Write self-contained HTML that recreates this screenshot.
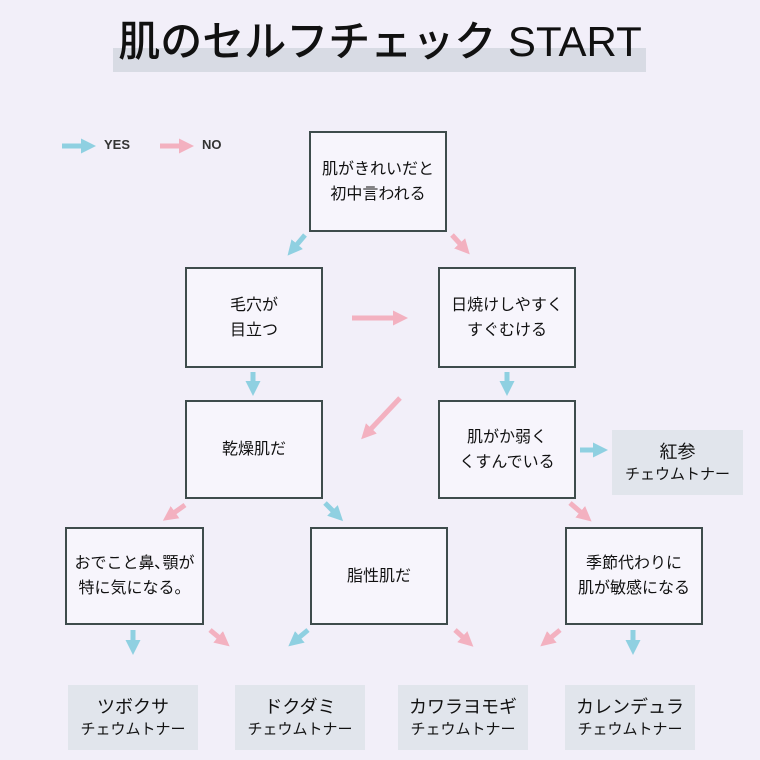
<!DOCTYPE html>
<html><head><meta charset="utf-8"><style>
body{margin:0;width:760px;height:760px;background:#f2eff9;position:relative;overflow:hidden;font-family:"Liberation Sans","Noto Sans CJK JP",sans-serif;color:#111}
.b{position:absolute;border:2px solid #3e4c4c;box-sizing:border-box;background:#f7f5fc;display:flex;align-items:center;justify-content:center;text-align:center;font-size:16px;line-height:25px}
.r{position:absolute;background:#e1e5ec;display:flex;flex-direction:column;align-items:center;justify-content:center;text-align:center}
.r .m{font-size:18px;line-height:24px}
.r .s{font-size:15px;line-height:22px}
.t{position:absolute;left:0;width:760px;top:14px;text-align:center;font-size:42px;line-height:56px;font-weight:500}
.bar{position:absolute;left:113px;top:48px;width:533px;height:24px;background:#d8dbe4}
.lg{position:absolute;font-size:13px;font-weight:bold;color:#333}
</style></head><body>
<div class="bar"></div>
<div class="t">肌のセルフチェック START</div>
<div class="lg" style="left:104px;top:137px">YES</div>
<div class="lg" style="left:202px;top:137px">NO</div>
<div class="b" style="left:309px;top:131px;width:138px;height:101px">肌がきれいだと<br>初中言われる</div>
<div class="b" style="left:185px;top:267px;width:138px;height:101px">毛穴が<br>目立つ</div>
<div class="b" style="left:438px;top:267px;width:138px;height:101px">日焼けしやすく<br>すぐむける</div>
<div class="b" style="left:185px;top:400px;width:138px;height:99px">乾燥肌だ</div>
<div class="b" style="left:438px;top:400px;width:138px;height:99px">肌がか弱く<br>くすんでいる</div>
<div class="b" style="left:65px;top:527px;width:139px;height:98px">おでこと鼻､顎が<br>特に気になる。</div>
<div class="b" style="left:310px;top:527px;width:138px;height:98px">脂性肌だ</div>
<div class="b" style="left:565px;top:527px;width:138px;height:98px">季節代わりに<br>肌が敏感になる</div>
<div class="r" style="left:612px;top:430px;width:131px;height:65px"><div class="m">紅参</div><div class="s">チェウムトナー</div></div>
<div class="r" style="left:68px;top:685px;width:130px;height:65px"><div class="m">ツボクサ</div><div class="s">チェウムトナー</div></div>
<div class="r" style="left:235px;top:685px;width:130px;height:65px"><div class="m">ドクダミ</div><div class="s">チェウムトナー</div></div>
<div class="r" style="left:398px;top:685px;width:130px;height:65px"><div class="m">カワラヨモギ</div><div class="s">チェウムトナー</div></div>
<div class="r" style="left:565px;top:685px;width:130px;height:65px"><div class="m">カレンデュラ</div><div class="s">チェウムトナー</div></div>
<svg width="760" height="760" style="position:absolute;left:0;top:0">
<defs>
<marker id="y" markerWidth="3" markerHeight="3" refX="1" refY="1.5" orient="auto" markerUnits="strokeWidth"><path d="M0,0L3,1.5L0,3z" fill="#8fd0e1"/></marker>
<marker id="n" markerWidth="3" markerHeight="3" refX="1" refY="1.5" orient="auto" markerUnits="strokeWidth"><path d="M0,0L3,1.5L0,3z" fill="#f3b1c0"/></marker>
</defs>
<g stroke-width="5" fill="none">
<g stroke="#8fd0e1" marker-end="url(#y)">
<line x1="62" y1="146" x2="86" y2="146"/>
<line x1="305" y1="235" x2="294" y2="248"/>
<line x1="253" y1="372" x2="253" y2="386"/>
<line x1="507" y1="372" x2="507" y2="386"/>
<line x1="580" y1="450" x2="598" y2="450"/>
<line x1="325" y1="503" x2="336" y2="514"/>
<line x1="133" y1="630" x2="133" y2="645"/>
<line x1="308" y1="630" x2="296" y2="640"/>
<line x1="633" y1="630" x2="633" y2="645"/>
</g>
<g stroke="#f3b1c0" marker-end="url(#n)">
<line x1="160" y1="146" x2="184" y2="146"/>
<line x1="452" y1="235" x2="463" y2="247"/>
<line x1="352" y1="318" x2="398" y2="318"/>
<line x1="400" y1="398" x2="368" y2="432"/>
<line x1="185" y1="505" x2="171" y2="515"/>
<line x1="570" y1="503" x2="584" y2="515"/>
<line x1="210" y1="630" x2="222" y2="640"/>
<line x1="455" y1="630" x2="466" y2="640"/>
<line x1="560" y1="630" x2="548" y2="640"/>
</g>
</g>
</svg>
</body></html>
